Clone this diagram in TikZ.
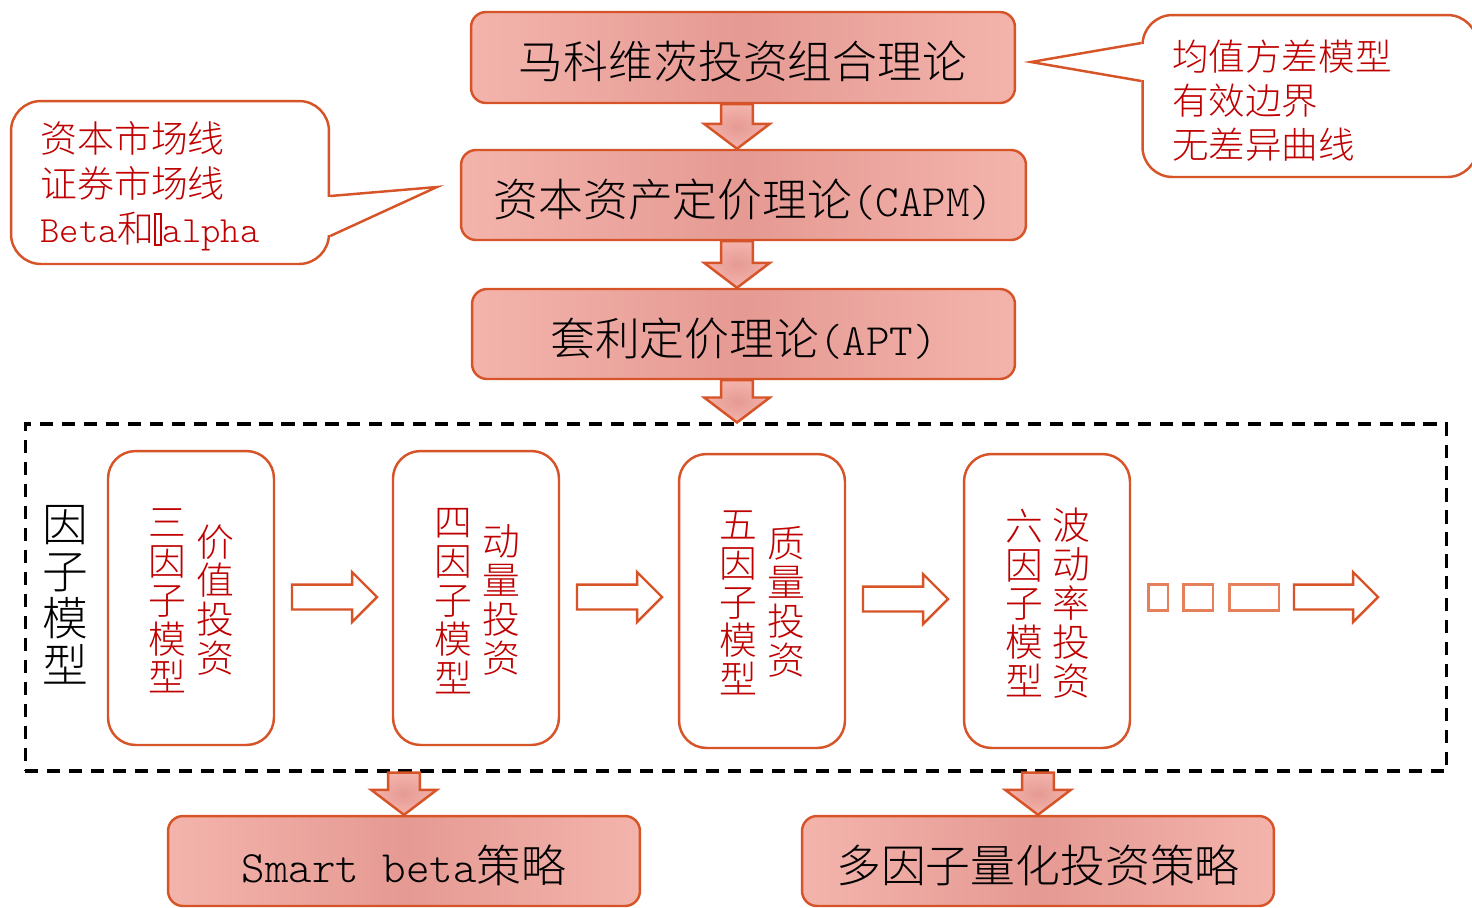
\documentclass[tikz,border=0pt]{standalone}
\usepackage{fontspec}
\setmainfont{Noto Sans CJK SC}[UprightFont=* Light]
\setmonofont{Latin Modern Mono Light}
\usetikzlibrary{calc}
\definecolor{bord}{RGB}{214,84,40}
\definecolor{pinkE}{RGB}{243,180,172}
\definecolor{pinkC}{RGB}{229,154,147}
\definecolor{txtred}{RGB}{192,0,0}
\definecolor{tofuc}{RGB}{228,128,92}
\newcommand\lat[1]{{\ttfamily #1}}
\newcommand\tofu{\kern-0.02em\raisebox{-0.05em}{\setlength\fboxsep{0pt}\setlength\fboxrule{0.05em}\framebox[0.22em]{\rule{0pt}{0.78em}}}\kern0.02em}
\newcommand\dnarr[2]{%
  \path[dnarrow] let \p1=(#1), \p2=(#2) in
   (\x1-9.07pt,\y1) -- (\x1+9.07pt,\y1) -- (\x1+9.07pt,\y2+14.2pt) -- (\x1+18.7pt,\y2+14.2pt)
   -- (\x1,\y2) -- (\x1-18.7pt,\y2+14.2pt) -- (\x1-9.07pt,\y2+14.2pt) -- cycle;}
\newcommand\rtarr[2]{%
  \path[hollow] let \p1=(#1), \p2=(#2) in
   (\x1,\y1+7.1pt) -- (\x2-14.2pt,\y1+7.1pt) -- (\x2-14.2pt,\y1+14.2pt) -- (\x2,\y1)
   -- (\x2-14.2pt,\y1-14.2pt) -- (\x2-14.2pt,\y1-7.1pt) -- (\x1,\y1-7.1pt) -- cycle;}
\tikzset{
  mainbox/.style={draw=bord, line width=1.4pt, rounded corners=0.3cm,
    left color=pinkE, right color=pinkE, middle color=pinkC,
    font=\fontsize{25.5}{30}\selectfont, text=black, inner sep=0pt,
    text height=27.4pt, text depth=3pt},
  dnarrow/.style={draw=bord, line width=1.4pt, inner color=pinkC, outer color=pinkE},
  hollow/.style={draw=bord, line width=1.4pt, fill=white},
  inbox/.style={draw=bord, line width=1.4pt, rounded corners=0.55cm, fill=white,
    minimum width=3.32cm, minimum height=5.88cm},
  vtext/.style={text=txtred, align=center, font=\fontsize{21.5}{22.1}\selectfont, inner sep=0pt},
  callbox/.style={draw=bord, line width=1.4pt, rounded corners=0.6cm, fill=white},
  cotext/.style={text=txtred, align=left, inner sep=0pt, anchor=west},
  tofubox/.style={draw=tofuc, line width=1.7pt, fill=white, minimum height=0.52cm, inner sep=0pt},
  frame/.style={draw=black, line width=1.8pt, dash pattern=on 7.5pt off 5pt,
    minimum width=28.44cm, minimum height=6.94cm}
}
\begin{document}
\begin{tikzpicture}[x=0.02cm,y=-0.02cm]
\useasboundingbox[fill=white] (0,0) rectangle (1472,907);

% top chain
\node[mainbox, minimum width=10.88cm, minimum height=1.82cm] (b1) at (743,57.5) {马科维茨投资组合理论};
\node[mainbox, minimum width=11.3cm, minimum height=1.8cm] (b2) at (743.5,195) {资本资产定价理论\lat{(CAPM)}};
\node[mainbox, minimum width=10.86cm, minimum height=1.8cm] (b3) at (743.5,334) {套利定价理论\lat{(APT)}};

% dashed frame
\node[frame] (fm) at (736,597.5) {};
\node[align=center, inner sep=0pt, font=\fontsize{26}{26.8}\selectfont] (fl) at (65,595) {因\\子\\模\\型};

\coordinate (ax) at (737,0);
\dnarr{b1.south -| ax}{b2.north -| ax}
\dnarr{b2.south -| ax}{b3.north -| ax}
\dnarr{b3.south -| ax}{fm.north -| ax}

% inner boxes
\node[inbox] (ia) at (191,598) {};
\node[inbox] (ib) at (476,598) {};
\node[inbox] (ic) at (762,601) {};
\node[inbox] (id) at (1047,601) {};

\node[vtext] (ta1) at (167,601) {三\\因\\子\\模\\型};
\node[vtext] (ta2) at (215,600) {价\\值\\投\\资};
\node[vtext] (tb1) at (453,601) {四\\因\\子\\模\\型};
\node[vtext] (tb2) at (501,600) {动\\量\\投\\资};
\node[vtext] (tc1) at (738,603) {五\\因\\子\\模\\型};
\node[vtext] (tc2) at (786,602) {质\\量\\投\\资};
\node[vtext] (td1) at (1024,603) {六\\因\\子\\模\\型};
\node[vtext] (td2) at (1071,603) {波\\动\\率\\投\\资};

\coordinate (r1s) at (292,597); \coordinate (r1e) at (377,597);
\coordinate (r2s) at (577,597); \coordinate (r2e) at (662,597);
\coordinate (r3s) at (863,599); \coordinate (r3e) at (948,599);
\rtarr{r1s}{r1e}
\rtarr{r2s}{r2e}
\rtarr{r3s}{r3e}

\node[tofubox, minimum width=0.4cm] (t1) at (1158,597) {};
\node[tofubox, minimum width=0.6cm] (t2) at (1198,597) {};
\node[tofubox, minimum width=1.0cm] (t3) at (1254,597) {};
\coordinate (r4s) at (1294,597); \coordinate (r4e) at (1378,597);
\rtarr{r4s}{r4e}

% bottom boxes
\node[mainbox, minimum width=9.44cm, minimum height=1.8cm] (sb) at (404,861) {\lat{Smart beta}策略};
\node[mainbox, minimum width=9.44cm, minimum height=1.8cm] (mf) at (1038,861) {多因子量化投资策略};
\dnarr{fm.south -| sb}{sb.north}
\dnarr{fm.south -| mf}{mf.north}

% left callout
\node[callbox, minimum width=6.36cm, minimum height=3.26cm] (cl) at (170,182.5) {};
\coordinate (clp) at (437,187);
\fill[white] (325,197) rectangle (332,235);
\draw[bord, line width=1.4pt, line join=miter] (cl.east |- 0,196) -- (clp) -- (cl.east |- 0,236);
\node[cotext, font=\fontsize{21}{25.5}\selectfont] (clt) at (40,186) {资本市场线\\证券市场线\\\lat{Beta}和\tofu\lat{alpha}};

% right callout
\node[callbox, minimum width=6.7cm, minimum height=3.24cm] (cr) at (1310,96) {};
\coordinate (crp) at (1031,62);
\fill[white] (1140,44) rectangle (1147,80);
\draw[bord, line width=1.4pt, line join=miter] (cr.west |- 0,43) -- (crp) -- (cr.west |- 0,81);
\node[cotext, font=\fontsize{20.8}{25}\selectfont] (crt) at (1172,101) {均值方差模型\\有效边界\\无差异曲线};
\end{tikzpicture}
\end{document}
